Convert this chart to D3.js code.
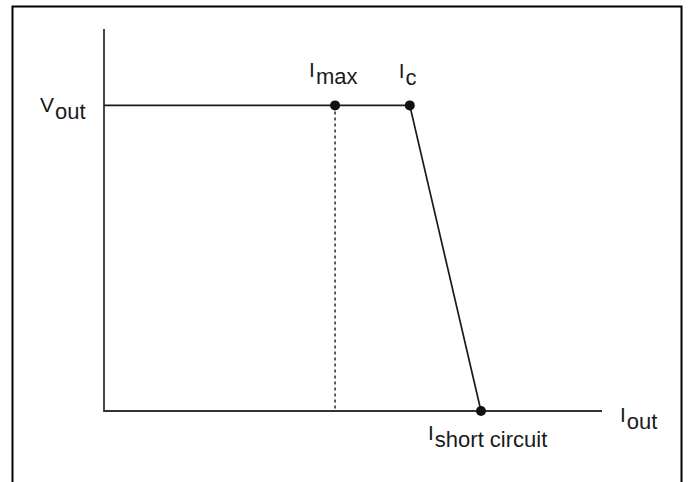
<!DOCTYPE html>
<html>
<head>
<meta charset="utf-8">
<script src="https://cdn.jsdelivr.net/npm/d3@7/dist/d3.min.js"></script>
<style>
  html, body { margin: 0; padding: 0; background: #fff; }
  text { font-family: "Liberation Sans", Arial, Helvetica, sans-serif; fill: #1a1a1a; }
</style>
</head>
<body>
<svg id="chart" width="688" height="482"></svg>
<script>
// Data (arbitrary units)
const pointNames = ["Imax", "Ic", "Isc"];
const currents = [4.64, 6.14, 7.57];
const voltages = [8, 8, 0];
const vout = 8;
const xDomain = [0, 10];
const yDomain = [0, 10];

const svg = d3.select("#chart");

// frame
svg.append("rect")
  .attr("x", 12.5).attr("y", 6.5)
  .attr("width", 669).attr("height", 500)
  .attr("fill", "none").attr("stroke", "#000").attr("stroke-width", 2);

const x = d3.scaleLinear().domain(xDomain).range([104, 602]);
const y = d3.scaleLinear().domain(yDomain).range([411, 29]);

const axisColor = "#333";
// axes
svg.append("line")
  .attr("x1", x(0)).attr("x2", x(0))
  .attr("y1", y(0) + 0.9).attr("y2", y(10))
  .attr("stroke", axisColor).attr("stroke-width", 1.8);
svg.append("line")
  .attr("x1", x(0)).attr("x2", x(10))
  .attr("y1", y(0)).attr("y2", y(0))
  .attr("stroke", axisColor).attr("stroke-width", 1.8);

// Vout horizontal line from axis to Ic, then down to Isc
const pts = [[0, vout]].concat(currents.map((c, i) => [c, voltages[i]]).filter((d, i) => i > 0));
svg.append("path")
  .attr("d", d3.line().x(d => x(d[0])).y(d => y(d[1]))(pts))
  .attr("fill", "none").attr("stroke", "#1a1a1a").attr("stroke-width", 1.7);

// dashed line at Imax
svg.append("line")
  .attr("x1", x(currents[0])).attr("x2", x(currents[0]))
  .attr("y1", y(vout)).attr("y2", y(0))
  .attr("stroke", "#1a1a1a").attr("stroke-width", 1.4)
  .attr("stroke-dasharray", "3,3");

// points
svg.selectAll("circle.pt").data(currents).enter().append("circle")
  .attr("class", "pt")
  .attr("cx", d => x(d)).attr("cy", (d, i) => y(voltages[i]))
  .attr("r", 5).attr("fill", "#111");

// labels
function label(xp, yp, main, sub) {
  const t = svg.append("text").attr("x", xp).attr("y", yp);
  t.append("tspan").attr("font-size", 21).text(main);
  t.append("tspan").attr("font-size", 22).attr("dy", 7).attr("dx", 1).text(sub);
  return t;
}
label(x(0) - 64, y(vout) + 7, "V", "out");
label(x(currents[0]) - 26, y(vout) - 28, "I", "max");
label(x(currents[1]) - 11, y(vout) - 27, "I", "c");
label(x(currents[2]) - 53, y(0) + 29, "I", "short circuit");
label(x(10) + 18, y(0) + 11, "I", "out");
</script>
</body>
</html>
